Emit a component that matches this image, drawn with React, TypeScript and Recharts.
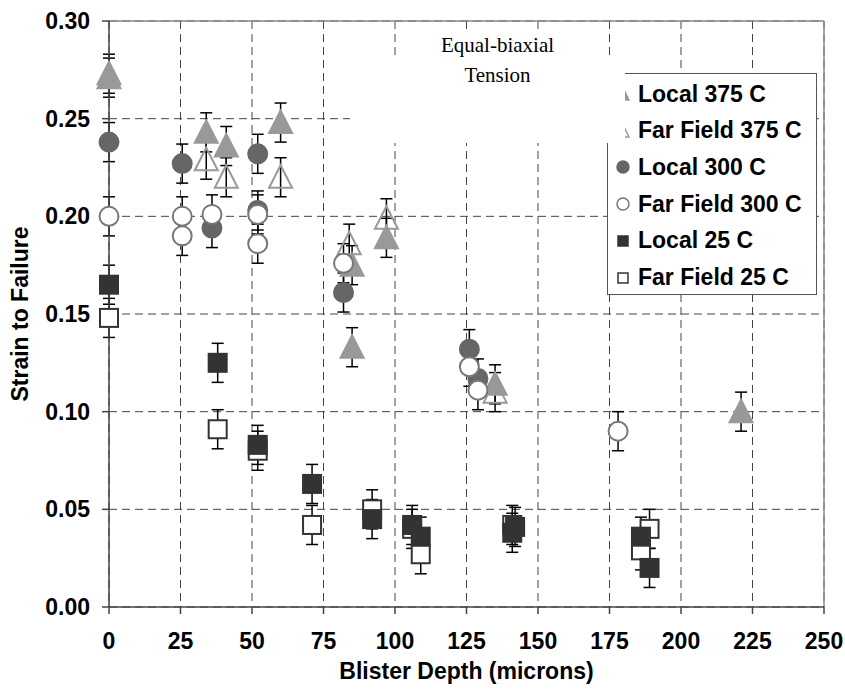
import React from "react";
import {
  ScatterChart,
  Scatter,
  XAxis,
  YAxis,
  CartesianGrid,
  ErrorBar,
  ReferenceLine,
  Label,
} from "recharts";

// axes
const X_TICKS = [0, 25, 50, 75, 100, 125, 150, 175, 200, 225, 250];
const Y_TICKS = [0, 0.05, 0.1, 0.15, 0.2, 0.25, 0.3];

// blister depth (microns), strain to failure, error (+/-)
const local375 = [
  { x: 0, y: 0.273, e: 0.01 },
  { x: 0, y: 0.271, e: 0.01 },
  { x: 34, y: 0.243, e: 0.01 },
  { x: 41, y: 0.236, e: 0.01 },
  { x: 60, y: 0.248, e: 0.01 },
  { x: 85, y: 0.175, e: 0.01 },
  { x: 85, y: 0.133, e: 0.01 },
  { x: 97, y: 0.189, e: 0.01 },
  { x: 135, y: 0.114, e: 0.01 },
  { x: 221, y: 0.1, e: 0.01 },
];
const farField375 = [
  { x: 34, y: 0.229, e: 0.01 },
  { x: 41, y: 0.22, e: 0.01 },
  { x: 60, y: 0.22, e: 0.01 },
  { x: 84, y: 0.186, e: 0.01 },
  { x: 97, y: 0.199, e: 0.01 },
  { x: 135, y: 0.11, e: 0.01 },
];
const local300 = [
  { x: 0, y: 0.238, e: 0.01 },
  { x: 25.6, y: 0.227, e: 0.01 },
  { x: 36, y: 0.194, e: 0.01 },
  { x: 52, y: 0.232, e: 0.01 },
  { x: 52, y: 0.203, e: 0.01 },
  { x: 82, y: 0.161, e: 0.01 },
  { x: 126, y: 0.132, e: 0.01 },
  { x: 129, y: 0.117, e: 0.01 },
];
const farField300 = [
  { x: 0, y: 0.2, e: 0.01 },
  { x: 25.6, y: 0.2, e: 0.01 },
  { x: 25.6, y: 0.19, e: 0.01 },
  { x: 36, y: 0.201, e: 0.01 },
  { x: 52, y: 0.201, e: 0.01 },
  { x: 52, y: 0.186, e: 0.01 },
  { x: 82, y: 0.176, e: 0.01 },
  { x: 126, y: 0.123, e: 0.01 },
  { x: 129, y: 0.111, e: 0.01 },
  { x: 178, y: 0.09, e: 0.01 },
];
const local25 = [
  { x: 0, y: 0.165, e: 0.01 },
  { x: 38, y: 0.125, e: 0.01 },
  { x: 52, y: 0.083, e: 0.01 },
  { x: 71, y: 0.063, e: 0.01 },
  { x: 92, y: 0.045, e: 0.01 },
  { x: 106, y: 0.042, e: 0.01 },
  { x: 109, y: 0.036, e: 0.01 },
  { x: 141, y: 0.038, e: 0.01 },
  { x: 142, y: 0.041, e: 0.01 },
  { x: 186, y: 0.036, e: 0.01 },
  { x: 189, y: 0.02, e: 0.01 },
];
const farField25 = [
  { x: 0, y: 0.148, e: 0.01 },
  { x: 38, y: 0.091, e: 0.01 },
  { x: 52, y: 0.08, e: 0.01 },
  { x: 71, y: 0.042, e: 0.01 },
  { x: 92, y: 0.05, e: 0.01 },
  { x: 106, y: 0.04, e: 0.01 },
  { x: 109, y: 0.027, e: 0.01 },
  { x: 141, y: 0.042, e: 0.01 },
  { x: 186, y: 0.029, e: 0.01 },
  { x: 189, y: 0.04, e: 0.01 },
];

const FONT = "'Liberation Sans', Arial, sans-serif";
const SERIF = "'Liberation Serif', 'Times New Roman', serif";
const tickStyle = { fontFamily: FONT, fontSize: 23, fontWeight: 700, fill: "#000" };

const tri = (fill: string, stroke: string) => (p: any) => (
  <polygon
    points={`${p.cx},${p.cy - 12} ${p.cx - 11.5},${p.cy + 10.5} ${p.cx + 11.5},${p.cy + 10.5}`}
    fill={fill}
    stroke={stroke}
    strokeWidth={2}
  />
);
const circ = (fill: string, stroke: string) => (p: any) => (
  <circle cx={p.cx} cy={p.cy} r={9.5} fill={fill} stroke={stroke} strokeWidth={2} />
);
const sq = (fill: string, stroke: string) => (p: any) => (
  <rect x={p.cx - 9} y={p.cy - 9} width={18} height={18} fill={fill} stroke={stroke} strokeWidth={2} />
);

const LEGEND = [
  { name: "Local 375 C", kind: "tri", fill: "#999", stroke: "#999" },
  { name: "Far Field 375 C", kind: "tri", fill: "none", stroke: "#999" },
  { name: "Local 300 C", kind: "circ", fill: "#666", stroke: "#666" },
  { name: "Far Field 300 C", kind: "circ", fill: "#fff", stroke: "#777" },
  { name: "Local 25 C", kind: "sq", fill: "#333", stroke: "#333" },
  { name: "Far Field 25 C", kind: "sq", fill: "#fff", stroke: "#333" },
];

function LegendMark({ kind, fill, stroke }: any) {
  return (
    <svg width={16} height={16} style={{ display: "block" }}>
      {kind === "tri" && <polygon points="8,2 2,14 14,14" fill={fill} stroke={stroke} strokeWidth={1.5} />}
      {kind === "circ" && <circle cx={8} cy={8} r={6} fill={fill} stroke={stroke} strokeWidth={1.5} />}
      {kind === "sq" && <rect x={3} y={3} width={10} height={10} fill={fill} stroke={stroke} strokeWidth={1.5} />}
    </svg>
  );
}

const bar = <ErrorBar dataKey="e" direction="y" width={6} stroke="#000" strokeWidth={1.5} />;

export default function App() {
  return (
    <div style={{ position: "absolute", left: 0, top: 0, width: 845, height: 693, background: "#fff" }}>
      <ScatterChart width={845} height={693} margin={{ top: 21, right: 21, bottom: 0, left: 0 }}>
        <CartesianGrid strokeDasharray="8 5" stroke="#444" strokeWidth={1} />
        <ReferenceLine y={0.3} stroke="#888" strokeWidth={1.5} />
        <ReferenceLine x={250} stroke="#888" strokeWidth={1.5} />
        <XAxis
          type="number"
          dataKey="x"
          domain={[0, 250]}
          ticks={X_TICKS}
          interval={0}
          height={86}
          tickSize={7}
          tickMargin={19}
          tick={tickStyle}
          stroke="#444"
          strokeWidth={1.5}
        >
          <Label
            content={(p: any) => (
              <text
                x={p.viewBox.x + p.viewBox.width / 2}
                y={679}
                textAnchor="middle"
                style={tickStyle}
              >
                Blister Depth (microns)
              </text>
            )}
          />
        </XAxis>
        <YAxis
          type="number"
          dataKey="y"
          domain={[0, 0.3]}
          ticks={Y_TICKS}
          interval={0}
          width={109}
          tickSize={7}
          tickMargin={12}
          tickFormatter={(v: number) => v.toFixed(2)}
          tick={tickStyle}
          stroke="#444"
          strokeWidth={1.5}
        >
          <Label
            content={(p: any) => {
              const cy = p.viewBox.y + p.viewBox.height / 2;
              return (
                <text
                  x={28}
                  y={cy}
                  transform={`rotate(-90 28 ${cy})`}
                  textAnchor="middle"
                  style={tickStyle}
                >
                  Strain to Failure
                </text>
              );
            }}
          />
        </YAxis>
        <Scatter name="Local 375 C" data={local375} shape={tri("#999", "#999")} isAnimationActive={false}>
          {bar}
        </Scatter>
        <Scatter name="Far Field 375 C" data={farField375} shape={tri("none", "#999")} isAnimationActive={false}>
          {bar}
        </Scatter>
        <Scatter name="Local 300 C" data={local300} shape={circ("#666", "#666")} isAnimationActive={false}>
          {bar}
        </Scatter>
        <Scatter name="Far Field 300 C" data={farField300} shape={circ("#fff", "#777")} isAnimationActive={false}>
          {bar}
        </Scatter>
        <Scatter name="Far Field 25 C" data={farField25} shape={sq("#fff", "#333")} isAnimationActive={false}>
          {bar}
        </Scatter>
        <Scatter name="Local 25 C" data={local25} shape={sq("#333", "#333")} isAnimationActive={false}>
          {bar}
        </Scatter>
      </ScatterChart>

      {/* legend */}
      <div
        style={{
          position: "absolute",
          left: 607,
          top: 73,
          width: 210,
          height: 222,
          boxSizing: "border-box",
          border: "1.5px solid #555",
          background: "#fff",
        }}
      >
        {LEGEND.map((l, i) => (
          <div
            key={l.name}
            style={{
              position: "absolute",
              left: 7,
              top: 20 + i * 36.7 - 13,
              height: 26,
              display: "flex",
              alignItems: "center",
              gap: 7,
              fontFamily: FONT,
              fontSize: 23,
              fontWeight: 700,
              whiteSpace: "nowrap",
            }}
          >
            <LegendMark {...l} />
            <span>{l.name}</span>
          </div>
        ))}
      </div>

      {/* white annotation box that hides the grid behind it */}
      <div
        style={{
          position: "absolute",
          left: 350,
          top: 57,
          width: 275,
          height: 86,
          background: "#fff",
        }}
      />
      <div
        style={{
          position: "absolute",
          left: 370,
          top: 30,
          width: 255,
          fontFamily: SERIF,
          fontSize: 21,
          textAlign: "center",
          lineHeight: "30px",
        }}
      >
        <span style={{ background: "#fff" }}>Equal-biaxial</span>
        <br />
        Tension
      </div>
    </div>
  );
}
